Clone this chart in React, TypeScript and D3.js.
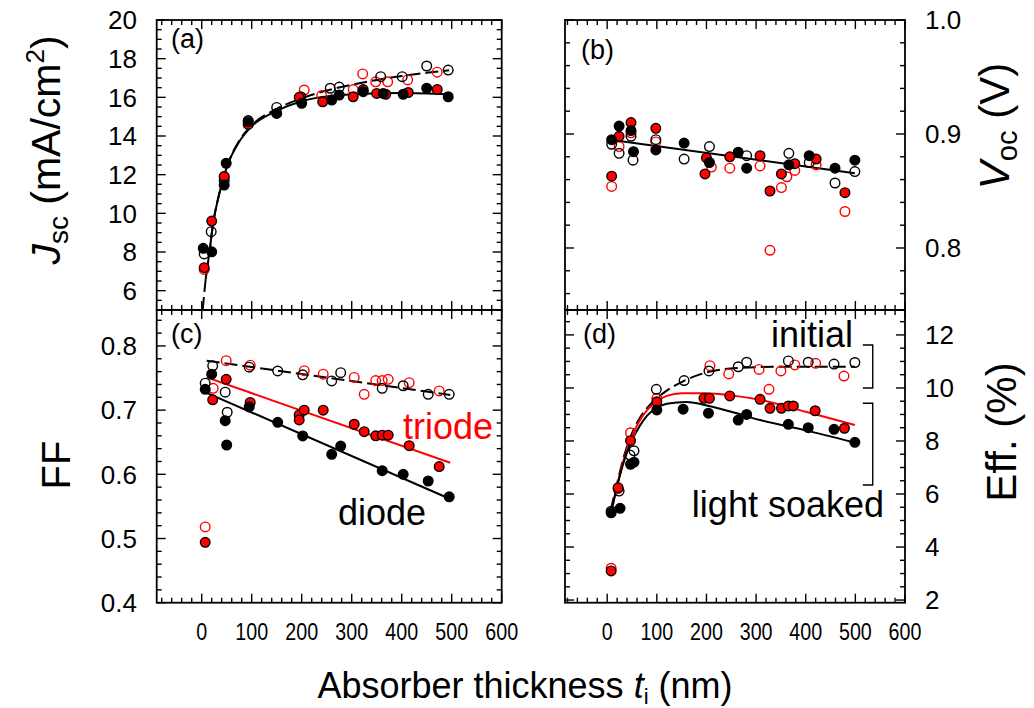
import React from "react";
import * as d3 from "d3";

type Pt = [number, number];

// ---------- shared x axis: absorber thickness t_i (nm) ----------
const thicknessTickLabels = [0, 100, 200, 300, 400, 500, 600];

// ---------- (a) Jsc (mA/cm^2) ----------
const jscTickLabels = [6, 8, 10, 12, 14, 16, 18, 20];
const jscInitialDiode: Pt[] = [
  [5, 7.9], [19, 9.05], [45, 11.7], [93, 14.8], [150, 15.48], [198, 16.03], [257, 16.47],
  [275, 16.53], [358, 17.07], [401, 17.07], [450, 17.62], [493, 17.41],
];
const jscInitialTriode: Pt[] = [
  [5, 7.1], [45, 11.9], [205, 16.38], [240, 16.1], [303, 16.4], [322, 17.21], [348, 16.8],
  [372, 16.8], [412, 16.9], [471, 17.3],
];
const jscSoakedDiode: Pt[] = [
  [3, 8.19], [20, 8.01], [45, 11.46], [49, 12.59], [93, 14.74], [150, 15.17], [200, 15.69],
  [260, 15.86], [275, 16.12], [323, 16.29], [363, 16.2], [403, 16.16], [450, 16.47], [493, 16.03],
];
const jscSoakedTriode: Pt[] = [
  [5, 7.19], [20, 9.6], [45, 11.9], [93, 14.6], [195, 16.0], [242, 15.77], [303, 16.03],
  [323, 16.4], [350, 16.2], [368, 16.16], [413, 16.25], [471, 16.41],
];
const jscFitInitial: Pt[] = [
  [2, 5.0], [8, 6.6], [15, 7.9], [23, 9.5], [35, 11.0], [49, 12.3], [75, 13.75], [100, 14.55],
  [150, 15.4], [200, 15.95], [250, 16.35], [300, 16.65], [350, 16.9], [400, 17.1], [450, 17.27], [495, 17.4],
];
const jscFitSoaked: Pt[] = [
  [8, 6.6], [15, 7.9], [23, 9.5], [35, 11.0], [49, 12.3], [75, 13.7], [100, 14.5], [150, 15.3],
  [200, 15.8], [250, 16.05], [300, 16.15], [400, 16.22], [495, 16.15],
];

// ---------- (b) Voc (V) ----------
const vocTickLabels = [0.8, 0.9, 1.0];
const vocInitialDiode: Pt[] = [
  [9, 0.891], [24, 0.883], [48, 0.898], [52, 0.877], [98, 0.895], [155, 0.878], [206, 0.889],
  [281, 0.881], [366, 0.883], [407, 0.875], [459, 0.857], [499, 0.867],
];
const vocInitialTriode: Pt[] = [
  [9, 0.854], [24, 0.889], [48, 0.901], [98, 0.893], [210, 0.871], [247, 0.87], [308, 0.872],
  [328, 0.798], [351, 0.853], [362, 0.8625], [378, 0.868], [421, 0.873], [479, 0.832],
];
const vocSoakedDiode: Pt[] = [
  [9, 0.895], [24, 0.907], [48, 0.903], [53, 0.8845], [98, 0.886], [155, 0.892], [206, 0.875],
  [264, 0.884], [281, 0.87], [366, 0.873], [407, 0.881], [459, 0.87], [499, 0.877],
];
const vocSoakedTriode: Pt[] = [
  [9, 0.863], [24, 0.898], [48, 0.91], [98, 0.905], [197, 0.865], [200, 0.879], [247, 0.88],
  [308, 0.881], [328, 0.85], [351, 0.865], [378, 0.874], [421, 0.878], [479, 0.8485],
];
const vocFit: Pt[] = [[6, 0.895], [499, 0.8655]];

// ---------- (c) fill factor ----------
const ffTickLabels = [0.4, 0.5, 0.6, 0.7, 0.8];
const ffInitialDiode: Pt[] = [
  [7, 0.742], [22, 0.769], [47, 0.728], [51, 0.6967], [95, 0.767], [152, 0.761], [202, 0.755],
  [260, 0.7455], [278, 0.7584], [361, 0.734], [403, 0.738], [453, 0.7247], [495, 0.7247],
];
const ffInitialTriode: Pt[] = [
  [7, 0.518], [23, 0.734], [49, 0.777], [97, 0.77], [205, 0.7615], [243, 0.756], [305, 0.751],
  [325, 0.7247], [348, 0.746], [361, 0.746], [373, 0.748], [415, 0.7428], [475, 0.73],
];
const ffSoakedDiode: Pt[] = [
  [7, 0.7325], [20, 0.756], [47, 0.6836], [50, 0.6457], [95, 0.705], [152, 0.681], [202, 0.6598],
  [260, 0.6312], [278, 0.644], [361, 0.6057], [403, 0.6], [453, 0.5896], [495, 0.565],
];
const ffSoakedTriode: Pt[] = [
  [7, 0.494], [22, 0.716], [49, 0.748], [97, 0.712], [195, 0.6925], [195, 0.6847], [205, 0.7],
  [243, 0.7], [305, 0.678], [325, 0.6665], [348, 0.66], [361, 0.661], [373, 0.661], [415, 0.6447],
  [475, 0.612],
];
const ffFitInitial: Pt[] = [[10, 0.777], [497, 0.7237]];
const ffFitTriode: Pt[] = [[10, 0.751], [497, 0.618]];
const ffFitDiode: Pt[] = [[10, 0.727], [497, 0.5616]];

// ---------- (d) efficiency (%) ----------
const effTickLabels = [2, 4, 6, 8, 10, 12];
const effInitialDiode: Pt[] = [
  [8, 5.35], [24, 6.11], [46, 7.47], [54, 7.63], [99, 9.95], [155, 10.28], [205, 10.64],
  [264, 10.8], [281, 10.97], [365, 11.02], [405, 10.97], [457, 10.9], [499, 10.96],
];
const effInitialTriode: Pt[] = [
  [8, 3.2], [22, 6.2], [47, 8.31], [100, 9.61], [207, 10.84], [245, 10.53], [306, 10.7],
  [326, 9.95], [350, 10.64], [378, 10.87], [420, 10.93], [477, 10.45],
];
const effSoakedDiode: Pt[] = [
  [8, 5.29], [26, 5.46], [47, 7.12], [54, 7.2], [100, 9.17], [153, 9.2], [204, 9.05],
  [264, 8.79], [281, 9.0], [365, 8.63], [405, 8.5], [457, 8.44], [499, 7.95],
];
const effSoakedTriode: Pt[] = [
  [8, 3.1], [22, 6.24], [47, 8.01], [100, 9.48], [195, 9.61], [206, 9.61], [247, 9.7],
  [308, 9.57], [328, 9.23], [351, 9.23], [365, 9.32], [375, 9.32], [419, 9.14], [478, 8.48],
];
const effFitInitial: Pt[] = [
  [7, 5.4], [20, 6.4], [35, 7.5], [48, 8.2], [65, 8.85], [88, 9.4], [120, 9.9], [153, 10.25],
  [203, 10.6], [262, 10.75], [350, 10.8], [499, 10.8],
];
const effFitTriode: Pt[] = [
  [7, 5.2], [20, 6.3], [35, 7.4], [48, 8.1], [65, 8.75], [80, 9.15], [100, 9.5], [120, 9.7],
  [150, 9.8], [200, 9.8], [250, 9.72], [308, 9.55], [400, 9.1], [499, 8.6],
];
const effFitDiode: Pt[] = [
  [7, 5.2], [20, 6.3], [35, 7.3], [48, 7.95], [65, 8.55], [80, 8.95], [100, 9.25], [120, 9.4],
  [160, 9.47], [205, 9.32], [250, 9.1], [308, 8.79], [400, 8.4], [499, 7.94],
];
// bracket ranges (efficiency, %) for the "initial" / "light soaked" groups
const bracketInitial: Pt = [10.0, 11.62];
const bracketSoaked: Pt = [6.34, 9.42];

const FONT = "'Liberation Sans', Arial, Helvetica, sans-serif";
const RED = "#ff0000";

type Box = { left: number; right: number; top: number; bottom: number };

function makeScales(box: Box, xDom: Pt, yDom: Pt) {
  const x = d3.scaleLinear().domain(xDom).range([box.left, box.right]);
  const y = d3.scaleLinear().domain(yDom).range([box.bottom, box.top]);
  return { x, y };
}

function stepValues(dom: Pt, step: number) {
  const start = Math.ceil(dom[0] / step - 1e-9) * step;
  const out: number[] = [];
  for (let v = start; v <= dom[1] + 1e-9; v += step) out.push(+v.toFixed(6));
  return out;
}

function Frame({
  box, x, y, xMajor, xMinor, yMajor, yMinor,
}: {
  box: Box; x: d3.ScaleLinear<number, number>; y: d3.ScaleLinear<number, number>;
  xMajor: number; xMinor: number; yMajor: number; yMinor: number;
}) {
  const xd = x.domain() as Pt;
  const yd = y.domain() as Pt;
  const isMajor = (v: number, s: number) => Math.abs(v / s - Math.round(v / s)) < 1e-6;
  const lines: JSX.Element[] = [];
  const ML = 9, mL = 5;
  stepValues(xd, xMinor).forEach((v, i) => {
    const len = isMajor(v, xMajor) ? ML : mL;
    const px = x(v);
    lines.push(<line key={"xb" + i} x1={px} x2={px} y1={box.bottom} y2={box.bottom - len} />);
    lines.push(<line key={"xt" + i} x1={px} x2={px} y1={box.top} y2={box.top + len} />);
  });
  stepValues(yd, yMinor).forEach((v, i) => {
    const len = isMajor(v, yMajor) ? ML : mL;
    const py = y(v);
    lines.push(<line key={"yl" + i} x1={box.left} x2={box.left + len} y1={py} y2={py} />);
    lines.push(<line key={"yr" + i} x1={box.right} x2={box.right - len} y1={py} y2={py} />);
  });
  return (
    <g stroke="#000" strokeWidth={1.4} fill="none">
      {lines}
      <rect x={box.left} y={box.top} width={box.right - box.left} height={box.bottom - box.top} strokeWidth={1.8} />
    </g>
  );
}

function Markers({
  data, x, y, kind,
}: {
  data: Pt[]; x: d3.ScaleLinear<number, number>; y: d3.ScaleLinear<number, number>;
  kind: "openBlack" | "openRed" | "fillBlack" | "fillRed";
}) {
  const style = {
    openBlack: { fill: "none", stroke: "#000" },
    openRed: { fill: "none", stroke: RED },
    fillBlack: { fill: "#000", stroke: "#000" },
    fillRed: { fill: RED, stroke: "#000" },
  }[kind];
  return (
    <g>
      {data.map((d, i) => (
        <circle key={i} cx={x(d[0])} cy={y(d[1])} r={4.8} fill={style.fill} stroke={style.stroke} strokeWidth={1.4} />
      ))}
    </g>
  );
}

function Fit({
  data, x, y, color, dashed, smooth,
}: {
  data: Pt[]; x: d3.ScaleLinear<number, number>; y: d3.ScaleLinear<number, number>;
  color: string; dashed?: boolean; smooth?: boolean;
}) {
  const gen = d3
    .line<Pt>()
    .x((d) => x(d[0]))
    .y((d) => y(d[1]))
    .curve(smooth ? d3.curveMonotoneX : d3.curveLinear);
  return (
    <path d={gen(data) || ""} fill="none" stroke={color} strokeWidth={2}
      strokeDasharray={dashed ? "13,5" : undefined} />
  );
}

export default function App() {
  const xDomLeft: Pt = [-90, 600];
  const xDomRight: Pt = [-85, 600];

  const boxA: Box = { left: 156.7, right: 501.7, top: 20, bottom: 310 };
  const boxB: Box = { left: 565, right: 905, top: 20, bottom: 310 };
  const boxC: Box = { left: 156.7, right: 501.7, top: 310, bottom: 602.7 };
  const boxD: Box = { left: 565, right: 905, top: 310, bottom: 602.7 };

  const A = makeScales(boxA, xDomLeft, [5, 20]);
  const B = makeScales(boxB, xDomRight, [0.7456, 1.0]);
  const C = makeScales(boxC, xDomLeft, [0.4, 0.856]);
  const D = makeScales(boxD, xDomRight, [1.9, 12.94]);

  const tickFs = 26;
  const xTickFs = 24;

  return (
    <svg width={1034} height={708} viewBox="0 0 1034 708"
      style={{ position: "absolute", left: 0, top: 0, background: "#fff" }} fontFamily={FONT}>
      <rect x={0} y={0} width={1034} height={708} fill="#fff" />

      {/* ---------- (a) ---------- */}
      <Fit data={jscFitSoaked} x={A.x} y={A.y} color="#000" smooth />
      <Fit data={jscFitInitial} x={A.x} y={A.y} color="#000" dashed smooth />
      <Markers data={jscInitialTriode} x={A.x} y={A.y} kind="openRed" />
      <Markers data={jscInitialDiode} x={A.x} y={A.y} kind="openBlack" />
      <Markers data={jscSoakedTriode} x={A.x} y={A.y} kind="fillRed" />
      <Markers data={jscSoakedDiode} x={A.x} y={A.y} kind="fillBlack" />
      <Frame box={boxA} x={A.x} y={A.y} xMajor={100} xMinor={20} yMajor={2} yMinor={0.5} />
      <text x={171} y={48} fontSize={27}>(a)</text>
      {jscTickLabels.map((v) => (
        <text key={v} x={137} y={A.y(v)} dy="0.36em" textAnchor="end" fontSize={tickFs}>{v}</text>
      ))}

      {/* ---------- (b) ---------- */}
      <Fit data={vocFit} x={B.x} y={B.y} color="#000" />
      <Markers data={vocInitialTriode} x={B.x} y={B.y} kind="openRed" />
      <Markers data={vocInitialDiode} x={B.x} y={B.y} kind="openBlack" />
      <Markers data={vocSoakedTriode} x={B.x} y={B.y} kind="fillRed" />
      <Markers data={vocSoakedDiode} x={B.x} y={B.y} kind="fillBlack" />
      <Frame box={boxB} x={B.x} y={B.y} xMajor={100} xMinor={20} yMajor={0.1} yMinor={0.02} />
      <text x={581} y={59} fontSize={27}>(b)</text>
      {vocTickLabels.map((v) => (
        <text key={v} x={925} y={B.y(v)} dy="0.36em" fontSize={tickFs}>{v.toFixed(1)}</text>
      ))}

      {/* ---------- (c) ---------- */}
      <Fit data={ffFitInitial} x={C.x} y={C.y} color="#000" dashed />
      <Fit data={ffFitTriode} x={C.x} y={C.y} color={RED} />
      <Fit data={ffFitDiode} x={C.x} y={C.y} color="#000" />
      <Markers data={ffInitialTriode} x={C.x} y={C.y} kind="openRed" />
      <Markers data={ffInitialDiode} x={C.x} y={C.y} kind="openBlack" />
      <Markers data={ffSoakedTriode} x={C.x} y={C.y} kind="fillRed" />
      <Markers data={ffSoakedDiode} x={C.x} y={C.y} kind="fillBlack" />
      <Frame box={boxC} x={C.x} y={C.y} xMajor={100} xMinor={20} yMajor={0.1} yMinor={0.02} />
      <text x={171} y={343} fontSize={27}>(c)</text>
      <text x={403} y={439} fontSize={36} fill={RED}>triode</text>
      <text x={338} y={525} fontSize={36} fill="#000">diode</text>
      {ffTickLabels.map((v) => (
        <text key={v} x={137} y={C.y(v)} dy="0.36em" textAnchor="end" fontSize={tickFs}>{v.toFixed(1)}</text>
      ))}
      {thicknessTickLabels.map((v) => (
        <g key={v} transform={`translate(${C.x(v)},640) scale(0.82,1)`}>
          <text x={0} y={0} textAnchor="middle" fontSize={xTickFs}>{v}</text>
        </g>
      ))}

      {/* ---------- (d) ---------- */}
      <Fit data={effFitInitial} x={D.x} y={D.y} color="#000" dashed smooth />
      <Fit data={effFitTriode} x={D.x} y={D.y} color={RED} smooth />
      <Fit data={effFitDiode} x={D.x} y={D.y} color="#000" smooth />
      <Markers data={effInitialTriode} x={D.x} y={D.y} kind="openRed" />
      <Markers data={effInitialDiode} x={D.x} y={D.y} kind="openBlack" />
      <Markers data={effSoakedTriode} x={D.x} y={D.y} kind="fillRed" />
      <Markers data={effSoakedDiode} x={D.x} y={D.y} kind="fillBlack" />
      <Frame box={boxD} x={D.x} y={D.y} xMajor={100} xMinor={20} yMajor={2} yMinor={0.5} />
      <text x={583} y={343} fontSize={27}>(d)</text>
      <text x={853} y={347} fontSize={36} textAnchor="end">initial</text>
      <text x={884} y={517} fontSize={36} textAnchor="end">light soaked</text>
      {[bracketInitial, bracketSoaked].map((b, i) => {
        const xr = D.x(535), xl = D.x(515);
        return (
          <path key={i} fill="none" stroke="#000" strokeWidth={1.4}
            d={`M${xl},${D.y(b[1])}H${xr}V${D.y(b[0])}H${xl}`} />
        );
      })}
      {effTickLabels.map((v) => (
        <text key={v} x={925} y={D.y(v)} dy="0.36em" fontSize={tickFs}>{v}</text>
      ))}
      {thicknessTickLabels.map((v) => (
        <g key={v} transform={`translate(${D.x(v)},640) scale(0.82,1)`}>
          <text x={0} y={0} textAnchor="middle" fontSize={xTickFs}>{v}</text>
        </g>
      ))}

      {/* ---------- axis titles ---------- */}
      <text transform="translate(60,150) rotate(-90)" textAnchor="middle" fontSize={41}>
        <tspan fontStyle="italic">J</tspan>
        <tspan fontSize={28} dy={8}>sc</tspan>
        <tspan dy={-8}> (mA/cm</tspan>
        <tspan fontSize={26} dy={-16}>2</tspan>
        <tspan dy={16}>)</tspan>
      </text>
      <text transform="translate(70,465) rotate(-90)" textAnchor="middle" fontSize={40}>FF</text>
      <text transform="translate(1009,126) rotate(-90)" textAnchor="middle" fontSize={42}>
        <tspan fontStyle="italic">V</tspan>
        <tspan fontSize={29} dy={8}>oc</tspan>
        <tspan dy={-8}> (V)</tspan>
      </text>
      <text transform="translate(1016,432) rotate(-90)" textAnchor="middle" fontSize={42}>Eff. (%)</text>
      <text x={525} y={698} textAnchor="middle" fontSize={36}>
        Absorber thickness <tspan fontStyle="italic">t</tspan>
        <tspan fontSize={22} dy={6}>i</tspan>
        <tspan dy={-6}> (nm)</tspan>
      </text>
    </svg>
  );
}
